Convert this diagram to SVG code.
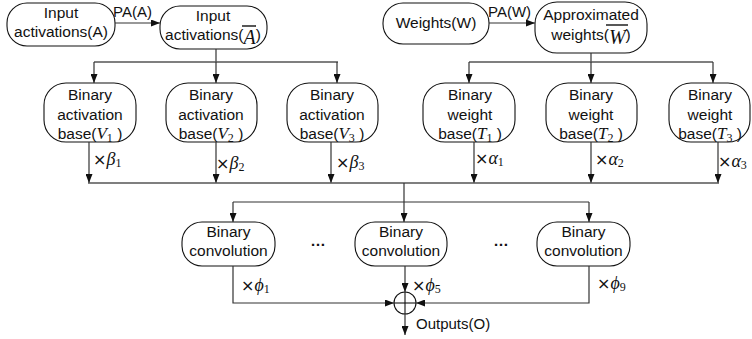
<svg xmlns="http://www.w3.org/2000/svg" width="752" height="339" viewBox="0 0 752 339">
  <style>
    .node { fill: #fff; stroke: #111; stroke-width: 1.1; }
    .t { font-family: "Liberation Sans", Arial, sans-serif; font-size: 15.5px; fill: #111; text-anchor: middle; }
    .lbl { font-family: "Liberation Sans", Arial, sans-serif; font-size: 15px; fill: #111; }
    .x { font-family: "DejaVu Sans", sans-serif; font-size: 16px; }
    .m { font-family: "Liberation Serif", "Times New Roman", serif; font-style: italic; }
    .sub { font-family: "Liberation Serif", "Times New Roman", serif; font-size: 12px; font-style: normal; }
    .wire { fill: none; stroke: #333; stroke-width: 1.2; }
    .bus { fill: none; stroke: #555; stroke-width: 1.6; }
    .arr { marker-end: url(#head); }
    .bar { stroke: #111; stroke-width: 1.4; }
  </style>
  <defs>
    <marker id="head" markerUnits="userSpaceOnUse" markerWidth="9" markerHeight="7" refX="9" refY="3.5" orient="auto">
      <path d="M0,0 L9,3.5 L0,7 z" fill="#111"/>
    </marker>
  </defs>
  <rect width="752" height="339" fill="#fff"/>

  <!-- source tensors -->
  <g id="input-a">
    <rect class="node" x="7" y="3" width="108" height="43" rx="20"/>
    <text class="t" x="61" y="18">Input</text>
    <text class="t" x="61" y="37">activations(A)</text>
  </g>
  <g id="input-a-bar">
    <rect class="node" x="160" y="6" width="107" height="43" rx="20"/>
    <text class="t" x="213" y="21">Input</text>
    <text class="t" x="213" y="40">activations(<tspan class="m" font-size="20" dy="4">A</tspan><tspan dy="-4">)</tspan></text>
    <line class="bar" x1="242" y1="26" x2="256" y2="26"/>
  </g>
  <g id="weights-w">
    <rect class="node" x="383" y="3" width="106" height="41" rx="20"/>
    <text class="t" x="436" y="28">Weights(W)</text>
  </g>
  <g id="weights-w-bar">
    <rect class="node" x="535" y="2" width="112" height="51" rx="22"/>
    <text class="t" x="591" y="20">Approximated</text>
    <text class="t" x="591" y="40">weights(<tspan class="m" font-size="20" dy="4">W</tspan><tspan dy="-4">)</tspan></text>
    <line class="bar" x1="606" y1="25" x2="628" y2="25"/>
  </g>

  <!-- binary activation bases -->
  <g id="base-v1">
    <rect class="node" x="44" y="83" width="92" height="59" rx="22"/>
    <text class="t" x="90" y="100">Binary</text>
    <text class="t" x="90" y="120">activation</text>
    <text class="t" x="90" y="139">base(<tspan class="m" font-size="17">V</tspan><tspan class="sub" dy="3">1</tspan><tspan dy="-3"> )</tspan></text>
  </g>
  <g id="base-v2">
    <rect class="node" x="166" y="83" width="91" height="59" rx="22"/>
    <text class="t" x="211" y="100">Binary</text>
    <text class="t" x="211" y="120">activation</text>
    <text class="t" x="211" y="139">base(<tspan class="m" font-size="17">V</tspan><tspan class="sub" dy="3">2</tspan><tspan dy="-3"> )</tspan></text>
  </g>
  <g id="base-v3">
    <rect class="node" x="287" y="83" width="91" height="59" rx="22"/>
    <text class="t" x="332" y="100">Binary</text>
    <text class="t" x="332" y="120">activation</text>
    <text class="t" x="332" y="139">base(<tspan class="m" font-size="17">V</tspan><tspan class="sub" dy="3">3</tspan><tspan dy="-3"> )</tspan></text>
  </g>

  <!-- binary weight bases -->
  <g id="base-t1">
    <rect class="node" x="423" y="83" width="92" height="59" rx="22"/>
    <text class="t" x="470" y="100">Binary</text>
    <text class="t" x="470" y="120">weight</text>
    <text class="t" x="470" y="139">base(<tspan class="m" font-size="17">T</tspan><tspan class="sub" dy="3">1</tspan><tspan dy="-3"> )</tspan></text>
  </g>
  <g id="base-t2">
    <rect class="node" x="546" y="83" width="91" height="59" rx="22"/>
    <text class="t" x="591" y="100">Binary</text>
    <text class="t" x="591" y="120">weight</text>
    <text class="t" x="591" y="139">base(<tspan class="m" font-size="17">T</tspan><tspan class="sub" dy="3">2</tspan><tspan dy="-3"> )</tspan></text>
  </g>
  <g id="base-t3">
    <rect class="node" x="669" y="83" width="81" height="59" rx="22"/>
    <text class="t" x="710" y="100">Binary</text>
    <text class="t" x="710" y="120">weight</text>
    <text class="t" x="710" y="139">base(<tspan class="m" font-size="17">T</tspan><tspan class="sub" dy="3">3</tspan><tspan dy="-3"> )</tspan></text>
  </g>

  <!-- binary convolutions -->
  <g id="conv-1">
    <rect class="node" x="182" y="222" width="93" height="44" rx="20"/>
    <text class="t" x="228.5" y="237">Binary</text>
    <text class="t" x="228.5" y="256">convolution</text>
  </g>
  <g id="conv-5">
    <rect class="node" x="355" y="222" width="92" height="44" rx="20"/>
    <text class="t" x="401" y="237">Binary</text>
    <text class="t" x="401" y="256">convolution</text>
  </g>
  <g id="conv-9">
    <rect class="node" x="537" y="222" width="93" height="44" rx="20"/>
    <text class="t" x="583.5" y="237">Binary</text>
    <text class="t" x="583.5" y="256">convolution</text>
  </g>
  <g id="ellipses">
    <text class="t" x="318" y="246" font-size="22" font-weight="bold">…</text>
    <text class="t" x="501" y="246" font-size="22" font-weight="bold">…</text>
  </g>

  <!-- summation node -->
  <g id="sum">
    <circle cx="405" cy="303" r="11" fill="#fff" stroke="#111" stroke-width="1.1"/>
    <line x1="394" y1="303" x2="416" y2="303" stroke="#111" stroke-width="1.1"/>
    <line x1="405" y1="292" x2="405" y2="314" stroke="#111" stroke-width="1.1"/>
  </g>

  <g id="connectors">
    <!-- pre-approximation -->
    <line class="wire arr" x1="115" y1="23" x2="160" y2="23"/>
    <line class="wire arr" x1="489" y1="23" x2="535" y2="23"/>
    <!-- fan-out to activation bases -->
    <line class="wire" x1="216" y1="49" x2="216" y2="62"/>
    <line class="bus" x1="94" y1="62" x2="338" y2="62"/>
    <line class="wire arr" x1="94" y1="62" x2="94" y2="83"/>
    <line class="wire arr" x1="216" y1="62" x2="216" y2="83"/>
    <line class="wire arr" x1="337" y1="62" x2="337" y2="83"/>
    <!-- fan-out to weight bases -->
    <line class="wire" x1="591" y1="53" x2="591" y2="62"/>
    <line class="bus" x1="469" y1="62" x2="713" y2="62"/>
    <line class="wire arr" x1="469" y1="62" x2="469" y2="83"/>
    <line class="wire arr" x1="591" y1="62" x2="591" y2="83"/>
    <line class="wire arr" x1="713" y1="62" x2="713" y2="83"/>
    <!-- scaled bases into the shared bus -->
    <line class="wire arr" x1="89" y1="142" x2="89" y2="183"/>
    <line class="wire arr" x1="216" y1="142" x2="216" y2="183"/>
    <line class="wire arr" x1="331" y1="142" x2="331" y2="183"/>
    <line class="wire arr" x1="474" y1="142" x2="474" y2="183"/>
    <line class="wire arr" x1="591" y1="142" x2="591" y2="183"/>
    <line class="wire arr" x1="718" y1="142" x2="718" y2="183"/>
    <line class="bus" x1="88" y1="183" x2="719" y2="183"/>
    <!-- bus to convolutions -->
    <line class="wire" x1="404" y1="183" x2="404" y2="202"/>
    <line class="wire" x1="233" y1="202" x2="589" y2="202"/>
    <line class="wire arr" x1="233" y1="202" x2="233" y2="222"/>
    <line class="wire arr" x1="404" y1="202" x2="404" y2="222"/>
    <line class="wire arr" x1="589" y1="202" x2="589" y2="222"/>
    <!-- convolutions to the sum -->
    <polyline class="wire arr" points="233,266 233,303 394,303"/>
    <polyline class="wire arr" points="589,266 589,303 416,303"/>
    <line class="wire arr" x1="405" y1="266" x2="405" y2="292"/>
    <line class="wire arr" x1="405" y1="314" x2="405" y2="335"/>
  </g>

  <g id="labels">
    <text class="lbl" x="113" y="17">PA(A)</text>
    <text class="lbl" x="488" y="17">PA(W)</text>
    <text class="lbl" x="93" y="165"><tspan class="x">×</tspan><tspan class="m" font-size="18">β</tspan><tspan class="sub" dy="2">1</tspan></text>
    <text class="lbl" x="216" y="169"><tspan class="x">×</tspan><tspan class="m" font-size="18">β</tspan><tspan class="sub" dy="2">2</tspan></text>
    <text class="lbl" x="336" y="168"><tspan class="x">×</tspan><tspan class="m" font-size="18">β</tspan><tspan class="sub" dy="2">3</tspan></text>
    <text class="lbl" x="475" y="164"><tspan class="x">×</tspan><tspan class="m" font-size="18">α</tspan><tspan class="sub" dy="2">1</tspan></text>
    <text class="lbl" x="595" y="165"><tspan class="x">×</tspan><tspan class="m" font-size="18">α</tspan><tspan class="sub" dy="2">2</tspan></text>
    <text class="lbl" x="718" y="167"><tspan class="x">×</tspan><tspan class="m" font-size="18">α</tspan><tspan class="sub" dy="2">3</tspan></text>
    <text class="lbl" x="241" y="291"><tspan class="x">×</tspan><tspan class="m" font-size="18">ϕ</tspan><tspan class="sub" dy="2">1</tspan></text>
    <text class="lbl" x="412" y="291"><tspan class="x">×</tspan><tspan class="m" font-size="18">ϕ</tspan><tspan class="sub" dy="2">5</tspan></text>
    <text class="lbl" x="597" y="289"><tspan class="x">×</tspan><tspan class="m" font-size="18">ϕ</tspan><tspan class="sub" dy="2">9</tspan></text>
    <text class="lbl" x="416" y="329">Outputs(O)</text>
  </g>
</svg>
